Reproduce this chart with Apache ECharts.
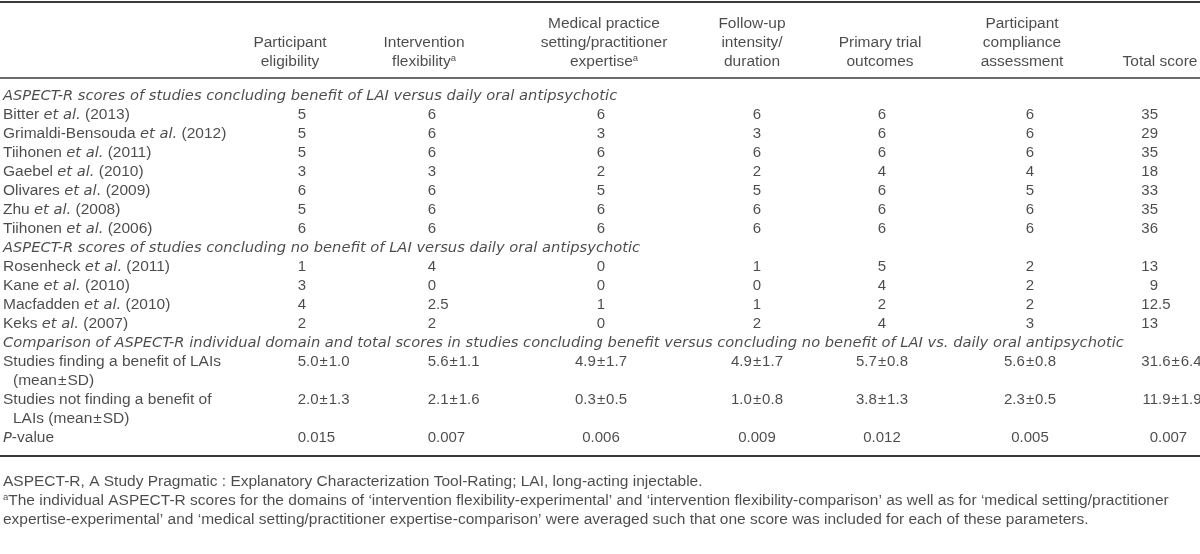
<!DOCTYPE html>
<html>
<head>
<meta charset="utf-8">
<script src="https://cdn.jsdelivr.net/npm/echarts@6/dist/echarts.min.js"></script>
<style>
  html, body { margin: 0; padding: 0; background: #ffffff; }
  #chart { width: 1200px; height: 554px; }
</style>
</head>
<body>
<div id="chart"></div>
<script>
// ---------------- DATA ----------------
const headers = [
  ['Participant', 'eligibility'],
  ['Intervention', 'flexibility{sup|a}'],
  ['Medical practice', 'setting/practitioner', 'expertise{sup|a}'],
  ['Follow-up', 'intensity/', 'duration'],
  ['Primary trial', 'outcomes'],
  ['Participant', 'compliance', 'assessment'],
  ['Total score']
];

const sectionTitles = [
  'ASPECT-R scores of studies concluding benefit of LAI versus daily oral antipsychotic',
  'ASPECT-R scores of studies concluding no benefit of LAI versus daily oral antipsychotic',
  'Comparison of ASPECT-R individual domain and total scores in studies concluding benefit versus concluding no benefit of LAI vs. daily oral antipsychotic'
];

const benefitAuthors = ['Bitter', 'Grimaldi-Bensouda', 'Tiihonen', 'Gaebel', 'Olivares', 'Zhu', 'Tiihonen'];
const benefitYears = [2013, 2012, 2011, 2010, 2009, 2008, 2006];
const benefitScores = [
  [5, 6, 6, 6, 6, 6, 35],
  [5, 6, 3, 3, 6, 6, 29],
  [5, 6, 6, 6, 6, 6, 35],
  [3, 3, 2, 2, 4, 4, 18],
  [6, 6, 5, 5, 6, 5, 33],
  [5, 6, 6, 6, 6, 6, 35],
  [6, 6, 6, 6, 6, 6, 36]
];

const noBenefitAuthors = ['Rosenheck', 'Kane', 'Macfadden', 'Keks'];
const noBenefitYears = [2011, 2010, 2010, 2007];
const noBenefitScores = [
  [1, 4, 0, 1, 5, 2, 13],
  [3, 0, 0, 0, 4, 2, 9],
  [4, 2.5, 1, 1, 2, 2, 12.5],
  [2, 2, 0, 2, 4, 3, 13]
];

const summaryLabels = [
  ['Studies finding a benefit of LAIs', '(mean{pmt|±}SD)'],
  ['Studies not finding a benefit of', 'LAIs (mean{pmt|±}SD)']
];
const benefitMean = [5.0, 5.6, 4.9, 4.9, 5.7, 5.6, 31.6];
const benefitSD = [1.0, 1.1, 1.7, 1.7, 0.8, 0.8, 6.4];
const noBenefitMean = [2.0, 2.1, 0.3, 1.0, 3.8, 2.3, 11.9];
const noBenefitSD = [1.3, 1.6, 0.5, 0.8, 1.3, 0.5, 1.9];
const pValueLabel = '{i|P}-value';
const pValues = [0.015, 0.007, 0.006, 0.009, 0.012, 0.005, 0.007];

const footnotes = [
  'ASPECT-R, A Study Pragmatic : Explanatory Characterization Tool-Rating; LAI, long-acting injectable.',
  '{sup|a}The individual ASPECT-R scores for the domains of \u2018intervention flexibility-experimental\u2019 and \u2018intervention flexibility-comparison\u2019 as well as for \u2018medical setting/practitioner',
  'expertise-experimental\u2019 and \u2018medical setting/practitioner expertise-comparison\u2019 were averaged such that one score was included for each of these parameters.'
];

// ---------------- LAYOUT / STYLE ----------------
const FONT = 'Liberation Sans';
const IFONT = 'DejaVu Sans';
const FS = 15.5;      // text labels
const NFS = 15;       // numeric cells
const IFS = 14.7;     // italic text
const TXT = '#1e1e1e';
const RULE = '#3a3a3a';
const layout = {
  labelX: 3,
  indent: 10,
  colAnchor: [306, 436, 601, 757, 882, 1030, 1158],
  colMode: ['decimal', 'decimal', 'center', 'center', 'center', 'center', 'decimal'],
  headerX: [290, 424, 604, 752, 880, 1022, 1160],
  headerGrid: { top: 14.5, height: 57 },
  bodyGrid: { top: 86.5, height: 361 },
  footGrid: { top: 472.5, height: 57 },
  topRuleOffset: 12.5,
  midRuleOffset: 6.5,
  bottomRuleOffset: 8.5
};

const rich = {
  i: { fontStyle: 'italic', fontFamily: IFONT, fontSize: IFS, color: TXT },
  sup: { fontFamily: FONT, fontSize: 9.5, color: TXT, verticalAlign: 'top', lineHeight: 9 },
  pm: { fontFamily: FONT, fontSize: NFS, color: TXT, padding: [0, 1, 0, 1] },
  pmt: { fontFamily: FONT, fontSize: FS, color: TXT, padding: [0, 1, 0, 1] }
};

// ---------------- BUILD ROWS ----------------
function pm(m, s) { return m.toFixed(1) + '{pm|±}' + s.toFixed(1); }

const bodyRows = [];
bodyRows.push({ label: '{i|' + sectionTitles[0] + '}' });
benefitAuthors.forEach((a, k) => bodyRows.push({
  label: a + ' {i|et al.} (' + benefitYears[k] + ')',
  cells: benefitScores[k].map(String)
}));
bodyRows.push({ label: '{i|' + sectionTitles[1] + '}' });
noBenefitAuthors.forEach((a, k) => bodyRows.push({
  label: a + ' {i|et al.} (' + noBenefitYears[k] + ')',
  cells: noBenefitScores[k].map(String)
}));
bodyRows.push({ label: '{i|' + sectionTitles[2] + '}' });
bodyRows.push({ label: summaryLabels[0][0], cells: benefitMean.map((m, k) => pm(m, benefitSD[k])) });
bodyRows.push({ label: summaryLabels[0][1], indent: true });
bodyRows.push({ label: summaryLabels[1][0], cells: noBenefitMean.map((m, k) => pm(m, noBenefitSD[k])) });
bodyRows.push({ label: summaryLabels[1][1], indent: true });
bodyRows.push({ label: pValueLabel, cells: pValues.map(p => p.toFixed(3)) });

const labelData = bodyRows.map((r, i) => ({
  name: r.label,
  value: [layout.labelX + (r.indent ? layout.indent : 0), i]
}));

const cellData = [];
bodyRows.forEach((r, i) => {
  if (!r.cells) return;
  r.cells.forEach((s, c) => {
    const x = layout.colAnchor[c];
    if (layout.colMode[c] === 'decimal') {
      const d = s.indexOf('.');
      const intPart = d < 0 ? s : s.slice(0, d);
      const rest = d < 0 ? '' : s.slice(d);
      cellData.push({ name: intPart, value: [x, i], label: { align: 'right' } });
      if (rest) cellData.push({ name: rest, value: [x, i], label: { align: 'left' } });
    } else {
      cellData.push({ name: s, value: [x, i], label: { align: 'center' } });
    }
  });
});

const headerData = [];
headers.forEach((lines, c) => {
  const start = 3 - lines.length;
  lines.forEach((t, k) => headerData.push({ name: t, value: [layout.headerX[c], start + k] }));
});

const footData = footnotes.map((t, i) => ({ name: t, value: [layout.labelX, i] }));

// ---------------- CHART ----------------
function textSeries(xi, yi, data, align, size) {
  return {
    type: 'scatter', xAxisIndex: xi, yAxisIndex: yi,
    symbolSize: 1, silent: true,
    itemStyle: { color: 'transparent' },
    emphasis: { disabled: true },
    label: {
      show: true, position: 'inside', formatter: p => p.name,
      color: TXT, fontFamily: FONT, fontSize: size,
      align: align, verticalAlign: 'middle', lineHeight: 18, rich: rich
    },
    data: data
  };
}

function valX(gridIndex, position, offset, show, width) {
  return {
    type: 'value', gridIndex, position, offset, min: 0, max: 1200,
    axisLine: { show, lineStyle: { color: RULE, width } },
    axisTick: { show: false }, axisLabel: { show: false }, splitLine: { show: false }
  };
}
function catY(gridIndex, n) {
  return {
    type: 'category', gridIndex, inverse: true,
    data: Array.from({ length: n }, (_, i) => String(i)),
    axisLine: { show: false }, axisTick: { show: false }, axisLabel: { show: false }, splitLine: { show: false }
  };
}

const chart = echarts.init(document.getElementById('chart'), null, { renderer: 'canvas' });
chart.setOption({
  animation: false,
  backgroundColor: '#ffffff',
  grid: [
    { left: 0, right: 0, top: layout.headerGrid.top, height: layout.headerGrid.height },
    { left: 0, right: 0, top: layout.bodyGrid.top, height: layout.bodyGrid.height },
    { left: 0, right: 0, top: layout.footGrid.top, height: layout.footGrid.height }
  ],
  xAxis: [
    valX(0, 'top', layout.topRuleOffset, true, 2),
    valX(0, 'bottom', layout.midRuleOffset, true, 1.5),
    valX(1, 'bottom', layout.bottomRuleOffset, true, 2),
    valX(2, 'bottom', 0, false, 1)
  ],
  yAxis: [catY(0, 3), catY(1, bodyRows.length), catY(2, footnotes.length)],
  series: [
    textSeries(0, 0, headerData, 'center', FS),
    textSeries(2, 1, labelData, 'left', FS),
    textSeries(2, 1, cellData, 'left', NFS),
    textSeries(3, 2, footData, 'left', FS)
  ]
});
</script>
</body>
</html>
